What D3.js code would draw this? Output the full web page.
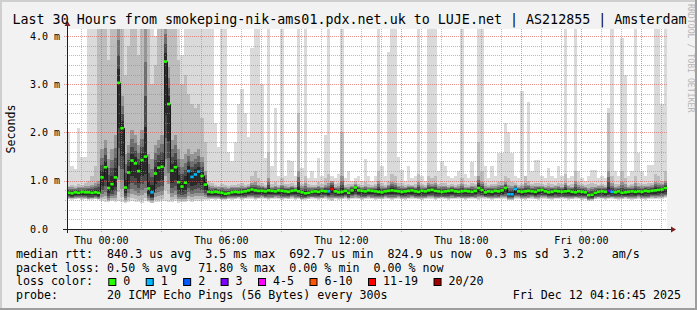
<!DOCTYPE html>
<html>
<head>
<meta charset="utf-8">
<style>
  html, body { margin: 0; padding: 0; background: #f2f2f2; }
  svg { display: block; }
  text { font-family: "DejaVu Sans Mono", monospace; white-space: pre; }
</style>
<script src="https://cdn.jsdelivr.net/npm/d3@7"></script>
</head>
<body>
<div id="chart"></div>
<script>
const title = 'Last 30 Hours from smokeping-nik-ams01.pdx.net.uk to LUJE.net | AS212855 | Amsterdam';
const yTitle = 'Seconds';
const start = new Date(2025, 11, 10, 22, 16, 45);
const end = new Date(2025, 11, 12, 4, 16, 45);
const stepMinutes = 10;

// median rtt per 10 min step (ms)
const median = [
  0.75, 0.74, 0.76, 0.75, 0.77, 0.76, 0.76, 0.75, 0.76, 0.75,
  1.07, 1.28, 0.85, 0.93, 1.07, 3.03, 2.09, 0.86, 1.17, 1.42,
  1.36, 1.20, 1.43, 1.50, 0.84, 0.76, 1.15, 1.27, 1.29, 3.47,
  2.59, 1.21, 1.28, 0.97, 0.88, 0.96, 1.20, 1.08, 1.13, 1.19,
  1.10, 0.92, 0.77, 0.76, 0.77, 0.76, 0.75, 0.73, 0.74, 0.76,
  0.77, 0.76, 0.77, 0.78, 0.80, 0.82, 0.80, 0.79, 0.79, 0.78,
  0.80, 0.79, 0.78, 0.80, 0.79, 0.78, 0.77, 0.79, 0.80, 0.78,
  0.76, 0.74, 0.75, 0.77, 0.78, 0.77, 0.79, 0.78, 0.78, 0.83,
  0.78, 0.76, 0.77, 0.79, 0.75, 0.80, 0.86, 0.80, 0.79, 0.78,
  0.80, 0.79, 0.78, 0.77, 0.76, 0.78, 0.79, 0.80, 0.79, 0.78,
  0.77, 0.78, 0.79, 0.80, 0.78, 0.77, 0.79, 0.78, 0.80, 0.81,
  0.79, 0.78, 0.77, 0.78, 0.79, 0.80, 0.78, 0.77, 0.78, 0.79,
  0.78, 0.77, 0.79, 0.85, 0.81, 0.76, 0.78, 0.77, 0.79, 0.78,
  0.80, 0.85, 0.72, 0.72, 0.83, 0.78, 0.77, 0.78, 0.79, 0.78,
  0.77, 0.80, 0.81, 0.78, 0.76, 0.77, 0.79, 0.78, 0.77, 0.78,
  0.79, 0.77, 0.76, 0.78, 0.77, 0.76, 0.70, 0.71, 0.75, 0.77,
  0.78, 0.77, 0.79, 0.77, 0.76, 0.78, 0.75, 0.76, 0.77, 0.78,
  0.77, 0.78, 0.77, 0.79, 0.78, 0.79, 0.80, 0.81, 0.82, 0.85
];

// fastest ping of each step (ms)
const low = [
  0.62, 0.61, 0.62, 0.63, 0.61, 0.62, 0.60, 0.61, 0.62, 0.60,
  0.58, 0.56, 0.55, 0.57, 0.56, 0.58, 0.55, 0.54, 0.56, 0.57,
  0.55, 0.56, 0.54, 0.57, 0.55, 0.53, 0.56, 0.55, 0.57, 0.58,
  0.56, 0.55, 0.57, 0.54, 0.56, 0.55, 0.57, 0.56, 0.58, 0.57,
  0.58, 0.60, 0.61, 0.62, 0.61, 0.62, 0.60, 0.61, 0.62, 0.61,
  0.62, 0.63, 0.61, 0.62, 0.63, 0.62, 0.61, 0.62, 0.63, 0.62,
  0.61, 0.62, 0.63, 0.62, 0.61, 0.62, 0.62, 0.63, 0.61, 0.62,
  0.60, 0.61, 0.62, 0.63, 0.62, 0.61, 0.62, 0.63, 0.60, 0.59,
  0.62, 0.61, 0.62, 0.63, 0.61, 0.62, 0.63, 0.62, 0.61, 0.62,
  0.63, 0.62, 0.61, 0.62, 0.62, 0.63, 0.62, 0.61, 0.62, 0.63,
  0.62, 0.61, 0.62, 0.63, 0.62, 0.62, 0.61, 0.62, 0.63, 0.62,
  0.61, 0.62, 0.63, 0.62, 0.61, 0.62, 0.62, 0.63, 0.62, 0.61,
  0.62, 0.63, 0.62, 0.61, 0.62, 0.63, 0.62, 0.61, 0.62, 0.62,
  0.63, 0.62, 0.60, 0.60, 0.62, 0.63, 0.62, 0.61, 0.62, 0.63,
  0.62, 0.61, 0.62, 0.63, 0.62, 0.61, 0.62, 0.62, 0.63, 0.62,
  0.61, 0.62, 0.63, 0.62, 0.61, 0.62, 0.59, 0.59, 0.62, 0.63,
  0.62, 0.61, 0.62, 0.63, 0.62, 0.61, 0.62, 0.63, 0.62, 0.61,
  0.62, 0.63, 0.62, 0.61, 0.62, 0.63, 0.62, 0.62, 0.63, 0.64
];

// top of the dark core of the smoke (ms)
const dense = [
  0.87, 0.88, 0.86, 0.88, 0.87, 0.89, 0.90, 0.92, 0.95, 1.00,
  1.65, 1.85, 1.45, 1.65, 1.95, 4.30, 2.75, 1.55, 1.75, 2.05,
  1.95, 1.75, 2.05, 4.30, 1.55, 1.45, 1.75, 1.85, 1.95, 4.30,
  3.35, 1.85, 1.95, 1.65, 1.45, 1.55, 1.65, 1.55, 1.60, 1.65,
  1.50, 1.20, 0.92, 0.89, 0.88, 0.87, 0.88, 0.87, 0.86, 0.88,
  0.87, 0.88, 0.89, 0.88, 0.89, 0.95, 0.97, 0.92, 0.90, 0.88,
  1.05, 0.88, 0.90, 0.88, 0.92, 0.89, 0.88, 0.90, 0.88, 1.20,
  0.89, 0.95, 0.88, 0.87, 0.88, 0.90, 0.88, 0.92, 0.95, 1.00,
  0.88, 0.89, 1.10, 0.88, 0.87, 0.89, 0.94, 0.90, 0.88, 0.90,
  0.88, 0.87, 0.89, 1.00, 0.90, 0.88, 0.92, 0.98, 0.96, 0.90,
  0.89, 0.88, 0.90, 0.89, 0.88, 0.98, 0.89, 0.88, 0.95, 0.93,
  0.95, 0.89, 0.90, 0.90, 0.88, 0.89, 0.88, 0.89, 0.93, 0.88,
  0.88, 0.90, 0.89, 1.10, 0.98, 0.89, 0.88, 0.89, 0.89, 0.91,
  0.92, 0.97, 0.92, 0.90, 0.91, 0.88, 0.89, 0.95, 0.92, 0.89,
  0.90, 0.90, 0.90, 0.88, 0.89, 0.88, 0.89, 0.90, 0.88, 0.96,
  0.89, 0.88, 1.00, 0.91, 0.89, 0.88, 0.86, 0.88, 0.88, 0.89,
  0.89, 0.88, 1.20, 0.95, 0.88, 0.89, 0.98, 0.93, 0.88, 0.89,
  0.95, 0.90, 0.89, 0.90, 0.90, 0.91, 0.98, 0.96, 0.94, 1.00
];

// top of the mid-grey smoke (ms)
const upper = [
  0.90, 0.92, 0.89, 0.93, 0.91, 0.95, 1.00, 1.10, 1.30, 4.30,
  4.30, 4.30, 3.50, 4.30, 4.30, 4.30, 4.30, 3.20, 3.80, 4.30,
  4.30, 3.60, 4.30, 4.30, 4.30, 3.00, 3.40, 4.30, 4.30, 4.30,
  4.30, 4.30, 4.30, 3.50, 3.00, 3.20, 2.80, 2.60, 2.50, 2.60,
  2.30, 1.80, 1.00, 0.95, 0.92, 0.90, 0.93, 0.91, 0.90, 0.92,
  0.91, 0.93, 0.95, 0.92, 0.94, 1.10, 1.20, 1.05, 0.96, 0.92,
  1.60, 0.93, 0.98, 0.92, 1.05, 0.94, 0.93, 0.95, 0.92, 2.40,
  0.94, 1.10, 0.93, 0.92, 0.91, 0.97, 0.93, 1.05, 1.15, 1.00,
  0.93, 0.95, 2.00, 0.92, 0.94, 0.93, 1.00, 0.94, 0.92, 0.98,
  0.93, 0.92, 0.94, 1.20, 0.95, 0.92, 1.00, 1.15, 1.10, 0.96,
  0.95, 0.92, 0.94, 0.92, 0.93, 1.15, 0.93, 0.92, 1.10, 1.05,
  1.10, 0.94, 0.96, 0.95, 0.92, 0.93, 0.92, 0.94, 1.05, 0.93,
  0.92, 0.96, 0.93, 1.80, 1.20, 0.95, 0.92, 0.94, 0.93, 0.98,
  0.99, 1.10, 1.05, 0.97, 0.95, 0.92, 0.94, 1.10, 1.00, 0.93,
  0.96, 0.95, 0.93, 0.92, 0.95, 0.93, 0.92, 0.95, 0.93, 1.15,
  0.92, 0.93, 1.20, 0.98, 0.93, 0.92, 0.94, 0.96, 0.94, 0.92,
  0.93, 0.92, 2.40, 1.10, 0.94, 0.93, 1.20, 1.05, 0.92, 0.94,
  1.10, 0.96, 0.94, 0.93, 0.95, 0.96, 1.15, 1.10, 1.00, 1.20
];

// slowest ping of each step (ms)
const high = [
  2.00, 1.30, 1.25, 2.10, 1.50, 1.50, 4.30, 4.30, 4.30, 4.30,
  4.30, 4.30, 4.30, 3.90, 4.30, 4.30, 4.30, 4.30, 4.30, 4.30,
  4.30, 4.30, 3.80, 4.30, 4.30, 4.30, 4.00, 4.30, 4.30, 4.30,
  4.30, 4.30, 4.30, 4.30, 3.60, 4.30, 4.30, 4.30, 4.30, 4.30,
  4.30, 4.30, 4.30, 4.30, 2.20, 1.70, 4.30, 4.30, 1.60, 1.40,
  1.80, 2.60, 2.90, 2.40, 1.90, 3.75, 4.30, 4.30, 3.00, 1.47,
  4.30, 1.30, 2.50, 1.10, 4.30, 1.10, 1.43, 1.40, 1.10, 4.30,
  1.26, 4.30, 1.05, 1.20, 1.05, 1.47, 1.10, 1.95, 4.30, 1.10,
  1.05, 1.15, 4.30, 1.05, 1.20, 1.00, 1.05, 1.10, 1.00, 1.46,
  1.10, 1.00, 1.10, 4.30, 1.30, 1.10, 3.67, 4.30, 4.30, 1.50,
  1.22, 1.00, 1.30, 1.05, 1.10, 4.30, 1.10, 1.00, 4.30, 4.30,
  4.30, 1.20, 1.40, 1.31, 1.10, 1.05, 1.10, 1.20, 4.30, 1.15,
  1.05, 1.39, 1.10, 4.30, 4.30, 1.30, 1.05, 1.30, 1.10, 1.57,
  1.57, 2.20, 2.00, 1.57, 1.10, 1.05, 2.85, 1.10, 2.63, 1.20,
  1.43, 1.43, 1.10, 1.05, 1.26, 1.10, 1.05, 1.30, 1.10, 4.30,
  1.05, 1.10, 4.30, 1.20, 1.05, 1.00, 1.10, 1.23, 1.23, 1.05,
  1.10, 1.05, 2.50, 4.30, 1.20, 1.10, 3.95, 3.20, 1.10, 1.20,
  4.30, 1.57, 1.20, 1.10, 1.33, 1.33, 4.30, 4.30, 2.60, 4.30
];

// lost pings (of 20) per step
const loss = [
  0, 0, 0, 0, 0, 0, 0, 0, 0, 0,
  0, 0, 0, 0, 0, 0, 0, 0, 0, 0,
  0, 0, 0, 0, 0, 1, 0, 0, 0, 0,
  0, 0, 0, 0, 0, 0, 1, 1, 1, 1,
  0, 0, 0, 0, 0, 0, 0, 0, 0, 0,
  0, 0, 0, 0, 0, 0, 0, 0, 0, 0,
  0, 0, 0, 0, 0, 0, 0, 0, 0, 0,
  0, 0, 0, 0, 0, 0, 0, 0, 1, 12,
  0, 0, 0, 0, 0, 0, 0, 0, 0, 0,
  0, 0, 0, 0, 0, 0, 0, 0, 0, 0,
  0, 0, 0, 0, 0, 0, 0, 0, 0, 0,
  0, 0, 0, 0, 0, 0, 0, 0, 0, 0,
  0, 0, 0, 0, 0, 0, 0, 0, 0, 0,
  0, 0, 1, 1, 1, 0, 0, 0, 0, 0,
  0, 0, 0, 0, 0, 0, 0, 0, 0, 0,
  0, 0, 0, 0, 0, 0, 0, 0, 0, 0,
  0, 0, 3, 1, 0, 0, 0, 0, 0, 0,
  0, 0, 0, 0, 0, 0, 0, 0, 0, 0
];

const yTicks = [0, 1, 2, 3, 4];
const yTickLabels = ['0.0', '1.0 m', '2.0 m', '3.0 m', '4.0 m'];
const lossLabels = ['0', '1', '2', '3', '4-5', '6-10', '11-19', '20/20'];
const lossMax = [0, 1, 2, 3, 5, 10, 19, 20];
const lossColors = ['#26ff00', '#00b8ff', '#0059ff', '#7e00ff', '#ff00ff', '#ff5500', '#ff0000', '#a10000'];
const legendLines = [
  'median rtt:  840.3 us avg  3.5 ms max  692.7 us min  824.9 us now  0.3 ms sd  3.2    am/s',
  'packet loss: 0.50 % avg   71.80 % max  0.00 % min  0.00 % now'
];
const probeLine = 'probe:       20 ICMP Echo Pings (56 Bytes) every 300s';
const stamp = 'Fri Dec 12 04:16:45 2025';
const watermark = 'RRDTOOL / TOBI OETIKER';

const width = 697;
const height = 310;
const plot = { left: 67, right: 667, top: 29, bottom: 229 };
const charW = 7.027;

const svg = d3.select('#chart').append('svg')
  .attr('width', width).attr('height', height);

// background + 3d frame
svg.append('rect').attr('width', width).attr('height', height).attr('fill', '#f2f2f2');
svg.append('path').attr('fill', '#cfcfcf')
  .attr('d', `M0,0H${width}V2H2V${height}H0Z`);
svg.append('path').attr('fill', '#9e9e9e')
  .attr('d', `M${width},0V${height}H0V${height - 2}H${width - 2}V0Z`);

svg.append('rect')
  .attr('x', plot.left).attr('y', plot.top)
  .attr('width', plot.right - plot.left).attr('height', plot.bottom - plot.top)
  .attr('fill', '#ffffff');

const xScale = d3.scaleTime().domain([start, end]).range([plot.left, plot.right]);
const yScale = d3.scaleLinear().domain([0, 4.145]).range([plot.bottom, plot.top]);

const steps = median.map((m, i) => ({
  t0: new Date(+start + i * stepMinutes * 60000),
  t1: new Date(+start + (i + 1) * stepMinutes * 60000),
  med: m, lo: low[i], core: dense[i], up: upper[i], hi: high[i], loss: loss[i]
}));

svg.append('clipPath').attr('id', 'plotclip')
  .append('rect')
  .attr('x', plot.left).attr('y', plot.top)
  .attr('width', plot.right - plot.left).attr('height', plot.bottom - plot.top);

// smoke: lightest band spans all pings, darker bands close in on the median
const bands = [
  { fill: '#dadada', top: d => d.hi, lo: 0 },
  { fill: '#bdbdbd', top: d => d.up, lo: 0.08 },
  { fill: '#959595', top: d => d.core, lo: 0.18 },
  { fill: '#6f6f6f', top: d => d.med + (d.core - d.med) * 0.7, lo: 0.3 },
  { fill: '#4a4a4a', top: d => d.med + (d.core - d.med) * 0.45, lo: 0.45 },
  { fill: '#2a2a2a', top: d => d.med + (d.core - d.med) * 0.22, lo: 0.62 }
];

const smoke = svg.append('g').attr('clip-path', 'url(#plotclip)').attr('shape-rendering', 'crispEdges');
bands.forEach(b => {
  smoke.append('g').selectAll('rect')
    .data(steps)
    .join('rect')
    .attr('x', d => xScale(d.t0))
    .attr('width', d => xScale(d.t1) - xScale(d.t0))
    .attr('y', d => yScale(b.top(d)))
    .attr('height', d => Math.max(0, yScale(d.lo + (d.med - d.lo) * b.lo) - yScale(b.top(d))))
    .attr('fill', b.fill);
});

// grid
const grid = svg.append('g').attr('shape-rendering', 'crispEdges');
const minorY = d3.range(0, 4.15, 0.2).filter(v => Math.abs(v - Math.round(v)) > 0.01);
grid.selectAll('.hmin').data(minorY).join('line')
  .attr('x1', plot.left - 2).attr('x2', plot.right)
  .attr('y1', d => Math.round(yScale(d)) + 0.5).attr('y2', d => Math.round(yScale(d)) + 0.5)
  .attr('stroke', 'rgba(143,143,143,0.6)').attr('stroke-dasharray', '1,1');
const hourTicks = xScale.ticks(d3.timeHour.every(1)).filter(d => d.getHours() % 3 !== 0);
grid.selectAll('.vmin').data(hourTicks).join('line')
  .attr('x1', d => Math.round(xScale(d)) + 0.5).attr('x2', d => Math.round(xScale(d)) + 0.5)
  .attr('y1', plot.top).attr('y2', plot.bottom + 2)
  .attr('stroke', 'rgba(143,143,143,0.6)').attr('stroke-dasharray', '1,1');
grid.selectAll('.hmaj').data(yTicks.slice(1)).join('line')
  .attr('x1', plot.left - 3).attr('x2', plot.right)
  .attr('y1', d => Math.round(yScale(d)) + 0.5).attr('y2', d => Math.round(yScale(d)) + 0.5)
  .attr('stroke', 'rgba(222,79,79,0.6)').attr('stroke-dasharray', '1,1');
const majorTicks = xScale.ticks(d3.timeHour.every(3));
grid.selectAll('.vmaj').data(majorTicks).join('line')
  .attr('x1', d => Math.round(xScale(d)) + 0.5).attr('x2', d => Math.round(xScale(d)) + 0.5)
  .attr('y1', plot.top).attr('y2', plot.bottom + 3)
  .attr('stroke', 'rgba(222,79,79,0.6)').attr('stroke-dasharray', '1,1');

// median: thin dark joins, then loss-coloured blocks
const med = svg.append('g').attr('clip-path', 'url(#plotclip)');
med.selectAll('line').data(steps.slice(1)).join('line')
  .attr('x1', d => Math.round(xScale(d.t0)) + 0.5).attr('x2', d => Math.round(xScale(d.t0)) + 0.5)
  .attr('y1', (d, i) => yScale(steps[i].med)).attr('y2', d => yScale(d.med))
  .attr('stroke', '#1a1a1a').attr('stroke-width', 1);
const lossColor = n => lossColors[lossMax.findIndex(m => n <= m)];
med.selectAll('rect').data(steps).join('rect')
  .attr('x', d => xScale(d.t0))
  .attr('width', d => xScale(d.t1) - xScale(d.t0))
  .attr('y', d => yScale(d.med) - 1.3)
  .attr('height', 2.6)
  .attr('fill', d => lossColor(d.loss));

// axes
const axis = svg.append('g').attr('shape-rendering', 'crispEdges');
axis.append('line').attr('x1', plot.left - 4).attr('x2', plot.right + 4)
  .attr('y1', plot.bottom + 0.5).attr('y2', plot.bottom + 0.5).attr('stroke', '#1f1f1f');
axis.append('line').attr('x1', plot.left + 0.5).attr('x2', plot.left + 0.5)
  .attr('y1', plot.bottom + 4).attr('y2', plot.top - 4).attr('stroke', '#1f1f1f');
svg.append('path').attr('fill', '#801f1f')
  .attr('d', `M${plot.right + 4},${plot.bottom - 2.5}L${plot.right + 9},${plot.bottom + 0.5}L${plot.right + 4},${plot.bottom + 3.5}Z`);
svg.append('path').attr('fill', '#801f1f')
  .attr('d', `M${plot.left - 2.5},${plot.top - 3}L${plot.left + 0.5},${plot.top - 8}L${plot.left + 3.5},${plot.top - 3}Z`);

svg.append('g').selectAll('text').data(yTicks).join('text')
  .attr('x', 30).attr('y', d => yScale(d) + 3.6)
  .attr('font-size', '10px').attr('fill', '#000')
  .text((d, i) => yTickLabels[i]);

const labelTicks = xScale.ticks(d3.timeHour.every(6));
svg.append('g').selectAll('text').data(labelTicks).join('text')
  .attr('x', d => xScale(d)).attr('y', 244.3)
  .attr('text-anchor', 'middle').attr('font-size', '10px').attr('fill', '#000')
  .text(d3.timeFormat('%a %H:%M'));

// titles
svg.append('text').attr('x', 12.5).attr('y', 24)
  .attr('font-size', '13.33px').attr('fill', '#000').text(title);
svg.append('text')
  .attr('transform', `translate(15,${(plot.top + plot.bottom) / 2}) rotate(-90)`)
  .attr('text-anchor', 'middle').attr('font-size', '11.65px').attr('fill', '#000')
  .text(yTitle);
svg.append('text')
  .attr('transform', 'translate(688,4) rotate(90)')
  .attr('font-size', '8.2px').attr('fill', '#b5b5b5')
  .text(watermark);

// legend
const lineY = [258, 271.7, 285.3, 299];
legendLines.forEach((s, i) => {
  svg.append('text').attr('x', 16).attr('y', lineY[i])
    .attr('font-size', '11.65px').attr('fill', '#000').text(s);
});
svg.append('text').attr('x', 16).attr('y', lineY[2])
  .attr('font-size', '11.65px').attr('fill', '#000').text('loss color:');
let cursor = 108.3;
const lossLegend = svg.append('g');
lossLabels.forEach((lab, i) => {
  lossLegend.append('rect').attr('x', cursor + 0.5).attr('y', 278.5)
    .attr('width', 7).attr('height', 7)
    .attr('fill', lossColors[i]).attr('stroke', '#000').attr('stroke-width', 1);
  lossLegend.append('text').attr('x', cursor + 15).attr('y', lineY[2])
    .attr('font-size', '11.65px').attr('fill', '#000').text(lab);
  cursor += 15 + lab.length * charW + 15.4;
});
svg.append('text').attr('x', 16).attr('y', lineY[3])
  .attr('font-size', '11.65px').attr('fill', '#000').text(probeLine);
svg.append('text').attr('x', 681).attr('y', lineY[3]).attr('text-anchor', 'end')
  .attr('font-size', '11.65px').attr('fill', '#000').text(stamp);
</script>
</body>
</html>
